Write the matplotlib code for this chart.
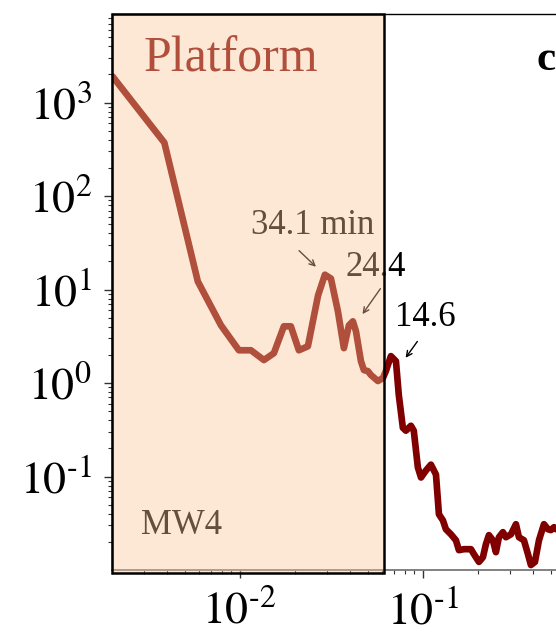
import matplotlib
matplotlib.use("Agg")
import math
import matplotlib.pyplot as plt
import matplotlib.transforms as mtransforms
from matplotlib.patches import Rectangle
from matplotlib.ticker import LogLocator, NullFormatter, FuncFormatter

plt.rcParams['font.family'] = ['Liberation Serif', 'DejaVu Serif']
plt.rcParams['mathtext.fontset'] = 'stix'

# frequency (1/min) and spectral power
freq = [0.00202, 0.00388, 0.00591, 0.00791, 0.00991, 0.01153, 0.01358, 0.01539,
        0.01745, 0.01906, 0.02108, 0.02361, 0.02683, 0.02924, 0.03155, 0.03446,
        0.03714, 0.03955, 0.04159, 0.04324, 0.04603, 0.04777, 0.05024, 0.05215,
        0.05698, 0.06067, 0.06297, 0.0671, 0.0715, 0.0741, 0.078, 0.081,
        0.0863, 0.0895, 0.0942, 0.098, 0.1043, 0.111, 0.1183, 0.1228,
        0.1291, 0.134, 0.1428, 0.1521, 0.1579, 0.1682, 0.1837, 0.1906,
        0.2031, 0.2136, 0.2218, 0.2303, 0.2421, 0.2515, 0.2612, 0.2747,
        0.2852, 0.304, 0.3236, 0.336, 0.3578, 0.3763, 0.3906, 0.411,
        0.4324, 0.4603, 0.4842, 0.5024, 0.5224, 0.57, 0.65]
power = [1905, 372, 12.2, 4.14, 2.24, 2.24, 1.76, 2.085,
         4.04, 4.04, 2.24, 2.47, 8.63, 14.4, 13.1, 5.83,
         2.36, 4.14, 4.57, 3.57, 1.71, 1.375, 1.34, 1.22,
         1.05, 1.13, 1.34, 1.94, 1.71, 0.745, 0.332, 0.309,
         0.349, 0.309, 0.125, 0.0976, 0.116, 0.134, 0.105, 0.0394,
         0.034, 0.0273, 0.0241, 0.0208, 0.0163, 0.0167, 0.0167, 0.0148,
         0.0122, 0.0137, 0.0189, 0.0236, 0.0208, 0.0155, 0.0224, 0.0254,
         0.0224, 0.0241, 0.0309, 0.0224, 0.0208, 0.0148, 0.0113, 0.0122,
         0.0208, 0.0309, 0.0273, 0.0267, 0.0287, 0.025, 0.022]

platform_start = 0.002
platform_end = 0.0615
peak_labels = ['34.1 min', '24.4', '14.6']
x_ticks = [0.01, 0.1]
y_ticks = [0.1, 1, 10, 100, 1000]


def pow10_label(v, pos):
    # short hyphen in the exponent, like the original figure
    e = int(round(math.log10(v)))
    if e < 0:
        return '$10^{\u2010' + str(-e) + '}$'
    return '$10^{' + str(e) + '}$'


fig = plt.figure(figsize=(5.56, 6.38), dpi=100)
ax = fig.add_axes([111.7 / 556, (638 - 570) / 638, 549 / 556, (570 - 14) / 638])

ax.plot(freq, power, color='#800000', lw=4.8, solid_joinstyle='round',
        solid_capstyle='round', zorder=2)

ax.set_xscale('log')
ax.set_yscale('log')
ax.set_xlim(0.002, 2)
ax.set_ylim(0.01, 8850)

ax.set_xticks(x_ticks)
ax.set_yticks(y_ticks)
ax.xaxis.set_major_formatter(FuncFormatter(pow10_label))
ax.yaxis.set_major_formatter(FuncFormatter(pow10_label))
ax.xaxis.set_minor_locator(LogLocator(subs=range(2, 10), numticks=20))
ax.yaxis.set_minor_locator(LogLocator(subs=range(2, 10), numticks=20))
ax.xaxis.set_minor_formatter(NullFormatter())
ax.yaxis.set_minor_formatter(NullFormatter())

ax.tick_params(which='major', direction='out', length=6, width=1, labelsize=33,
               color='#333333')
ax.tick_params(axis='y', which='major', pad=8)
ax.tick_params(axis='x', which='major', pad=9)
ax.tick_params(which='minor', direction='out', length=3, width=0.8, color='#333333')

for side in ['top', 'left', 'right']:
    ax.spines[side].set_color('black')
    ax.spines[side].set_linewidth(1)
ax.spines['bottom'].set_color('#777777')
ax.spines['bottom'].set_linewidth(1.3)

# labels sit under the shaded band, so they take its tint
ax.text(0.0030, 2140, 'Platform', fontsize=36, color='#800000', zorder=3)
ax.text(0.00289, 0.0241, 'MW4', fontsize=25, color='black', zorder=3)

ax.text(0.0252, 39.4, peak_labels[0], fontsize=25, ha='center', zorder=3)
ax.annotate('', xy=(0.0268, 16.7), xytext=(0.0206, 27.3),
            arrowprops=dict(arrowstyle='->', color='black', lw=1), zorder=3)

ax.text(0.0377, 14.1, peak_labels[1], fontsize=25, zorder=3)
ax.annotate('', xy=(0.046, 5.16), xytext=(0.060, 10.8),
            arrowprops=dict(arrowstyle='->', color='black', lw=1), zorder=3)

ax.text(0.0706, 4.04, peak_labels[2], fontsize=25, zorder=3)
ax.annotate('', xy=(0.0791, 1.76), xytext=(0.0955, 2.94),
            arrowprops=dict(arrowstyle='->', color='black', lw=1), zorder=3)

trans = mtransforms.blended_transform_factory(ax.transData, ax.transAxes)
band = Rectangle((platform_start, -0.005), platform_end - platform_start, 1.005,
                 transform=trans, facecolor=(249 / 255, 199 / 255, 151 / 255, 0.4),
                 edgecolor='black', lw=1.8, clip_on=False, zorder=4)
ax.add_patch(band)

fig.text(536 / 556, 1 - 70 / 638, 'c', fontsize=31, color='black', fontweight='bold')

fig.savefig('out.png', dpi=100)
